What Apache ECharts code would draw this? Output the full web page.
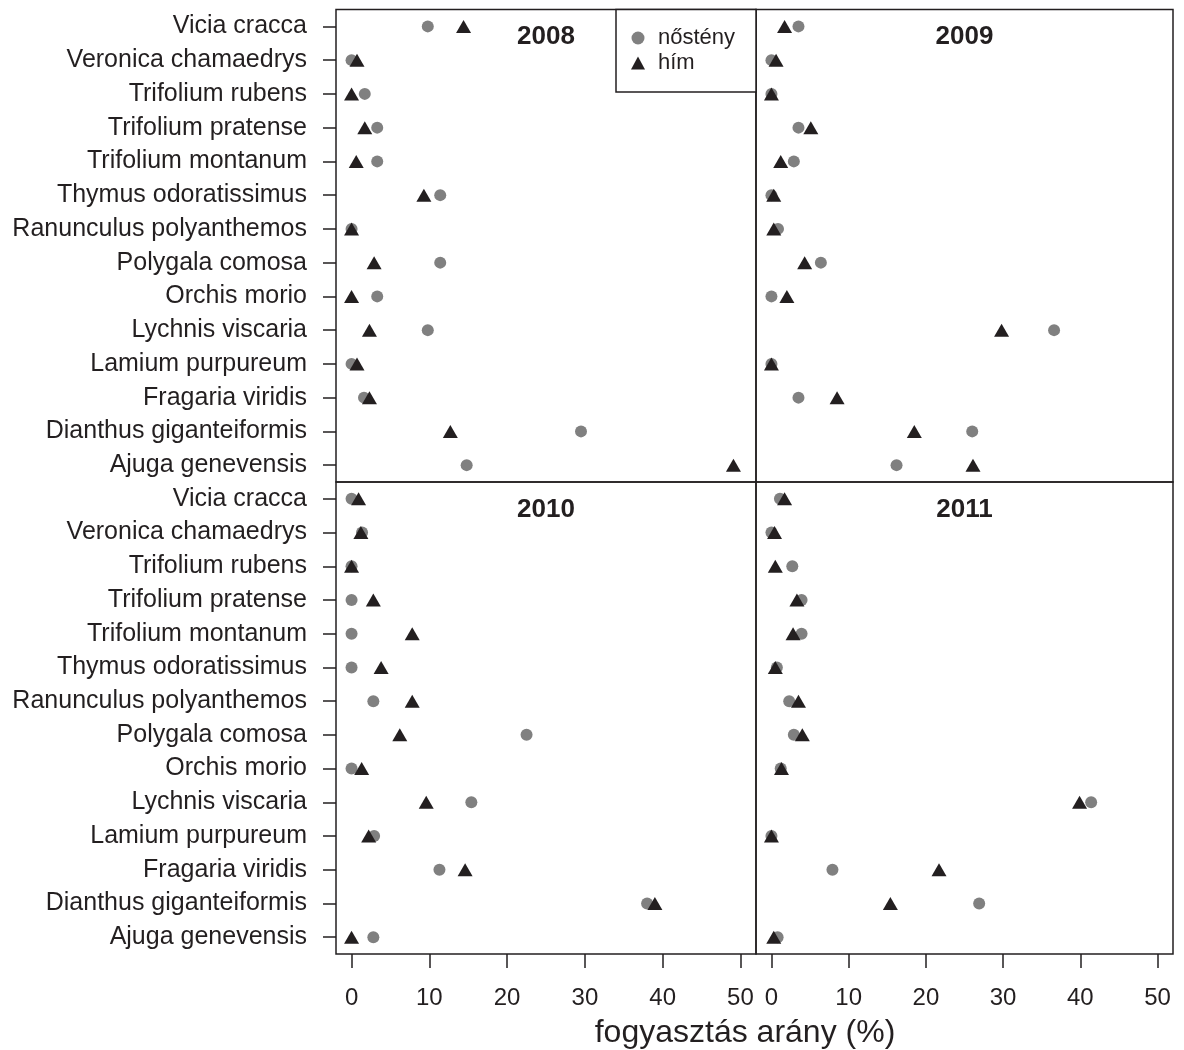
<!DOCTYPE html>
<html>
<head>
<meta charset="utf-8">
<script src="https://cdn.jsdelivr.net/npm/echarts@6/dist/echarts.min.js"></script>
<style>html,body{margin:0;padding:0;background:#fff}#c{width:1184px;height:1050px}</style>
</head>
<body>
<div id="c"></div>
<script>
var species = ['Vicia cracca','Veronica chamaedrys','Trifolium rubens','Trifolium pratense','Trifolium montanum','Thymus odoratissimus','Ranunculus polyanthemos','Polygala comosa','Orchis morio','Lychnis viscaria','Lamium purpureum','Fragaria viridis','Dianthus giganteiformis','Ajuga genevensis'];
var years = ['2008','2009','2010','2011'];
var xTicks = [0, 10, 20, 30, 40, 50];

var female2008 = [9.8, 0, 1.7, 3.3, 3.3, 11.4, 0, 11.4, 3.3, 9.8, 0, 1.6, 29.5, 14.8];
var male2008   = [14.4, 0.7, 0, 1.7, 0.6, 9.3, 0, 2.9, 0, 2.3, 0.7, 2.3, 12.7, 49.1];
var female2009 = [3.5, 0, 0, 3.5, 2.9, 0, 0.85, 6.4, 0, 36.6, 0, 3.5, 26.0, 16.2];
var male2009   = [1.7, 0.6, 0, 5.1, 1.2, 0.3, 0.3, 4.3, 2.0, 29.8, 0, 8.5, 18.5, 26.1];
var female2010 = [0, 1.35, 0, 0, 0, 0, 2.8, 22.5, 0, 15.4, 2.9, 11.3, 38.0, 2.8];
var male2010   = [0.9, 1.2, 0, 2.8, 7.8, 3.8, 7.8, 6.2, 1.3, 9.6, 2.2, 14.6, 39.0, 0];
var female2011 = [1.1, 0, 2.7, 3.9, 3.9, 0.7, 2.3, 2.9, 1.2, 41.4, 0, 7.9, 26.9, 0.8];
var male2011   = [1.7, 0.4, 0.5, 3.3, 2.8, 0.5, 3.5, 4.0, 1.3, 39.9, 0, 21.7, 15.4, 0.3];

var females = [female2008, female2009, female2010, female2011];
var males = [male2008, male2009, male2010, male2011];

var INK = '#231f20';
var GRAY = '#808080';
var FONT = 'Liberation Sans';

var grids = [
  {left: 336, top: 9.5, width: 420, height: 472.5},
  {left: 756, top: 9.5, width: 417, height: 472.5},
  {left: 336, top: 482, width: 420, height: 472},
  {left: 756, top: 482, width: 417, height: 472}
].map(function (g) {
  return Object.assign({show: true, borderColor: INK, borderWidth: 1.5, backgroundColor: 'transparent', containLabel: false}, g);
});

var xAxes = [0,1,2,3].map(function (i) {
  var bottom = i >= 2;
  return {
    type: 'value', gridIndex: i, min: -2, max: 52, position: 'bottom',
    axisLine: {show: false, onZero: false},
    splitLine: {show: false},
    axisTick: {show: bottom, inside: false, length: 14, customValues: xTicks, lineStyle: {color: INK, width: 1.5}},
    axisLabel: {show: bottom, customValues: xTicks, margin: 32, fontFamily: FONT, fontSize: 24, color: INK}
  };
});

var yAxes = [0,1,2,3].map(function (i) {
  var left = (i % 2 === 0);
  return {
    type: 'category', gridIndex: i, data: species, inverse: true, boundaryGap: true, position: 'left',
    axisLine: {show: false, onZero: false},
    splitLine: {show: false},
    axisTick: {show: left, inside: false, alignWithLabel: true, length: 13, lineStyle: {color: INK, width: 1.5}},
    axisLabel: {show: left, margin: 29, fontFamily: FONT, fontSize: 25, color: INK}
  };
});

var series = [];
for (var i = 0; i < 4; i++) {
  series.push({
    name: 'nőstény', type: 'scatter', xAxisIndex: i, yAxisIndex: i,
    symbol: 'circle', symbolSize: 12, itemStyle: {color: GRAY, opacity: 1},
    data: females[i].map(function (v, k) { return [v, species[k]]; }),
    z: 2
  });
}
for (var j = 0; j < 4; j++) {
  series.push({
    name: 'hím', type: 'scatter', xAxisIndex: j, yAxisIndex: j,
    symbol: 'triangle', symbolSize: [15, 13], itemStyle: {color: INK, opacity: 1},
    data: males[j].map(function (v, k) { return [v, species[k]]; }),
    z: 3
  });
}

var centers = [[546, 37], [964.5, 37], [546, 510], [964.5, 510]];
var graphics = years.map(function (y, i) {
  return {type: 'text', x: centers[i][0], y: centers[i][1], z: 10,
    style: {text: y, textAlign: 'center', textVerticalAlign: 'middle', font: 'bold 26px ' + FONT, fill: INK}};
});
graphics.push({type: 'rect', shape: {x: 616, y: 9.5, width: 140, height: 82.5}, z: 5,
  style: {fill: '#fff', stroke: INK, lineWidth: 1.5}});
graphics.push({type: 'text', x: 745, y: 1033, z: 10,
  style: {text: 'fogyasztás arány (%)', textAlign: 'center', textVerticalAlign: 'middle', font: '32px ' + FONT, fill: INK}});

var chart = echarts.init(document.getElementById('c'), null, {renderer: 'canvas'});
chart.setOption({
  animation: false,
  backgroundColor: '#fff',
  grid: grids,
  xAxis: xAxes,
  yAxis: yAxes,
  series: series,
  legend: {
    orient: 'vertical', left: 626, top: 22, z: 20,
    itemWidth: 14, itemHeight: 13, itemGap: 3,
    data: [{name: 'nőstény', icon: 'circle', itemStyle: {color: GRAY}}, {name: 'hím', icon: 'triangle', itemStyle: {color: INK}}],
    formatter: '{a|{name}}',
    textStyle: {fontFamily: FONT, fontSize: 22, color: INK,
      rich: {a: {fontFamily: FONT, fontSize: 22, color: INK, padding: [0, 0, 0, 8], lineHeight: 22}}},
    selectedMode: false
  },
  graphic: graphics
});
</script>
</body>
</html>
